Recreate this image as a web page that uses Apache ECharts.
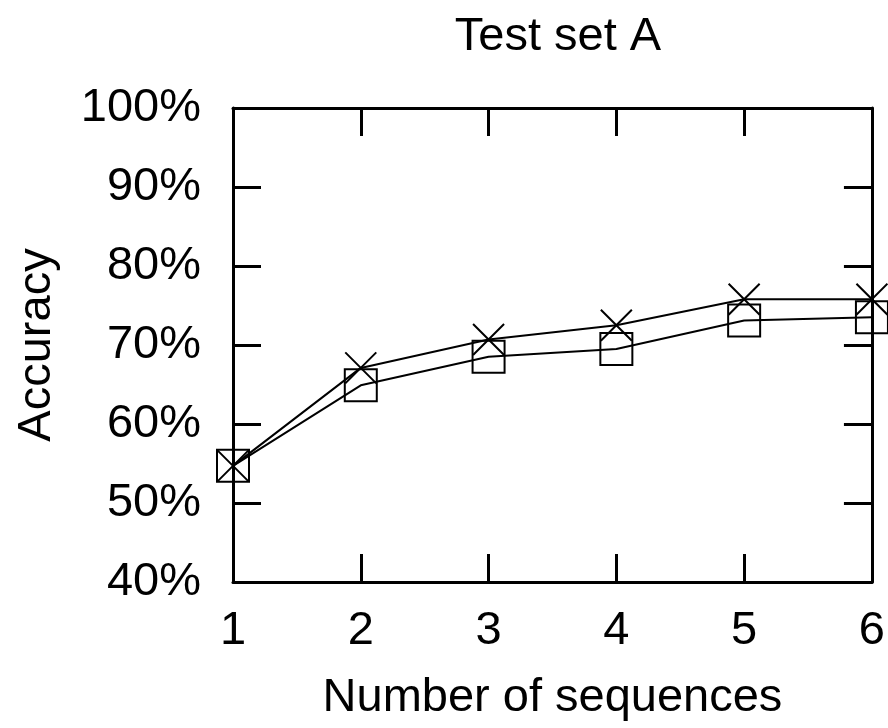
<!DOCTYPE html>
<html lang="en">

<head>
	<meta charset="UTF-8">
	<title>Test set A</title>
	<script src="https://cdn.jsdelivr.net/npm/echarts@6/dist/echarts.min.js"></script>
	<style>
		html, body { margin: 0; padding: 0; background: #fff; }
		#chart { width: 888px; height: 728px; }
	</style>
</head>

<body>
	<div id="chart"></div>
	<script>
		// data
		var sequences = [1, 2, 3, 4, 5, 6];
		var crossAcc = [54.7, 67.1, 70.7, 72.5, 75.8, 75.8];   // X markers
		var squareAcc = [54.7, 64.9, 68.5, 69.5, 73.1, 73.5];  // open squares
		var yMin = 40, yMax = 100, yStep = 10;

		var font = 'Liberation Sans, Arial, Helvetica, sans-serif';
		var fs = 47;

		function pairs(xs, ys) {
			return xs.map(function (x, i) { return [x, ys[i]]; });
		}

		var chart = echarts.init(document.getElementById('chart'));

		var axisLine = { show: true, lineStyle: { color: '#000', width: 3 } };
		var tick = { show: true, inside: true, length: 28, lineStyle: { color: '#000', width: 3 } };

		var option = {
			animation: false,
			backgroundColor: '#fff',
			title: {
				text: 'Test set A',
				left: 553, textAlign: 'center',
				top: 9,
				textStyle: { fontFamily: font, fontSize: fs, fontWeight: 'normal', color: '#000' }
			},
			grid: { left: 233, right: 16, top: 108, bottom: 146 },
			xAxis: [
				{
					type: 'value', min: 1, max: 6, interval: 1, position: 'bottom',
					name: 'Number of sequences', nameLocation: 'middle', nameGap: 93,
					nameTextStyle: { fontFamily: font, fontSize: fs, color: '#000' },
					axisLine: axisLine, axisTick: tick,
					axisLabel: { fontFamily: font, fontSize: fs, color: '#000', margin: 26 },
					splitLine: { show: false }
				},
				{
					// mirror on top (gnuplot style)
					type: 'value', min: 1, max: 6, interval: 1, position: 'top',
					axisLine: axisLine, axisTick: tick, axisLabel: { show: false },
					splitLine: { show: false }
				}
			],
			yAxis: [
				{
					type: 'value', min: yMin, max: yMax, interval: yStep, position: 'left',
					name: 'Accuracy', nameLocation: 'middle', nameGap: 172, nameRotate: 90,
					nameTextStyle: { fontFamily: font, fontSize: fs, color: '#000' },
					axisLine: axisLine, axisTick: tick,
					axisLabel: {
						fontFamily: font, fontSize: fs, color: '#000', margin: 32,
						formatter: function (v) { return v + '%'; }
					},
					splitLine: { show: false }
				},
				{
					type: 'value', min: yMin, max: yMax, interval: yStep, position: 'right',
					axisLine: axisLine, axisTick: tick, axisLabel: { show: false },
					splitLine: { show: false }
				}
			],
			series: [
				{
					type: 'line',
					data: pairs(sequences, squareAcc),
					symbol: 'rect', symbolSize: 32,
					itemStyle: { color: 'transparent', borderColor: '#000', borderWidth: 2 },
					lineStyle: { color: '#000', width: 2 },
					clip: false
				},
				{
					type: 'line',
					data: pairs(sequences, crossAcc),
					symbol: 'path://M0,0L10,10M10,0L0,10', symbolSize: 31,
					itemStyle: { color: 'transparent', borderColor: '#000', borderWidth: 2 },
					lineStyle: { color: '#000', width: 2 },
					clip: false
				}
			]
		};
		chart.setOption(option);
	</script>
</body>

</html>
